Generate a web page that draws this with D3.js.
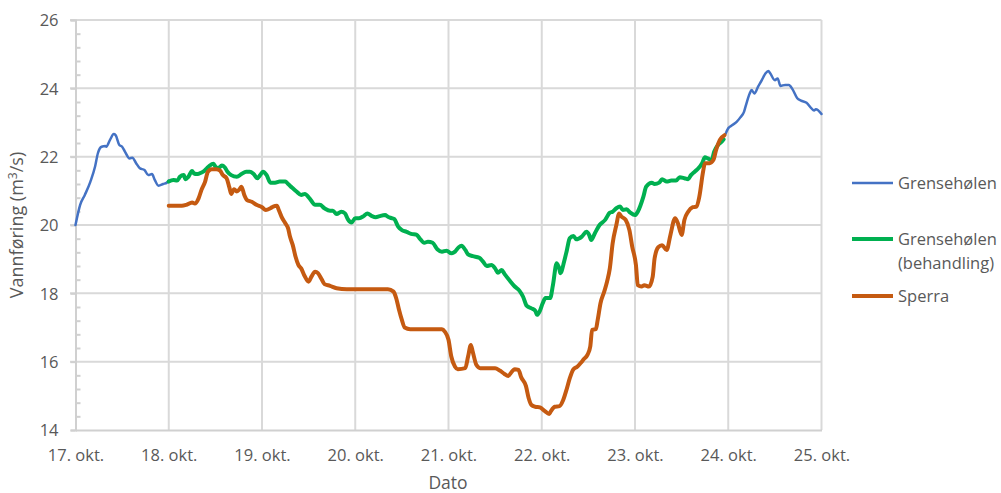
<!DOCTYPE html>
<html>
<head>
<meta charset="utf-8">
<script src="https://cdn.jsdelivr.net/npm/d3@7"></script>
<style>
  body { margin: 0; background: #fff; }
  svg text { font-family: "Open Sans", sans-serif; fill: #595959; }
</style>
</head>
<body>
<svg id="chart" width="1001" height="493"></svg>
<script>
"use strict"
/* Vannføring (m3/s) 17.-25. okt - Grensehølen, Grensehølen (behandling) and Sperra
 * x values are days after 17. okt 00:00 */

var dayLabels = ["17. okt.", "18. okt.", "19. okt.", "20. okt.", "21. okt.",
                 "22. okt.", "23. okt.", "24. okt.", "25. okt."];
var yTicks = [14, 16, 18, 20, 22, 24, 26];

// Grensehølen - before and after the treatment period (null splits the line)
var grenseholen = [
  [0.00,20.00],[0.05,20.59],[0.10,20.88],[0.16,21.27],[0.21,21.71],[0.24,22.10],[0.28,22.29],
  [0.32,22.31],[0.33,22.29],[0.37,22.49],[0.41,22.66],[0.43,22.63],[0.47,22.34],[0.50,22.29],
  [0.53,22.15],[0.58,21.95],[0.61,21.97],[0.65,21.81],[0.69,21.66],[0.74,21.61],[0.78,21.46],
  [0.82,21.49],[0.85,21.32],[0.89,21.15],[0.94,21.20],[0.98,21.24],[1.00,21.30],
  null,
  [6.97,22.66],[7.00,22.83],[7.03,22.90],[7.09,23.02],[7.13,23.15],[7.17,23.32],[7.19,23.51],
  [7.23,23.85],[7.25,23.95],[7.28,23.85],[7.32,24.05],[7.36,24.24],[7.40,24.44],[7.43,24.51],
  [7.45,24.44],[7.50,24.24],[7.53,24.29],[7.56,24.07],[7.61,24.10],[7.65,24.10],[7.69,23.97],
  [7.74,23.71],[7.78,23.64],[7.84,23.58],[7.89,23.42],[7.92,23.35],[7.94,23.39],[8.00,23.25]
];

// Grensehølen (behandling)
var behandling = [
  [1.00,21.27],[1.05,21.32],[1.09,21.30],[1.12,21.41],[1.16,21.46],[1.18,21.34],[1.21,21.41],
  [1.25,21.58],[1.27,21.51],[1.30,21.49],[1.33,21.51],[1.37,21.56],[1.41,21.66],[1.44,21.74],
  [1.48,21.79],[1.50,21.71],[1.53,21.66],[1.57,21.74],[1.60,21.69],[1.63,21.56],[1.67,21.46],
  [1.73,21.41],[1.78,21.49],[1.83,21.56],[1.87,21.56],[1.91,21.49],[1.95,21.37],[1.98,21.46],
  [2.01,21.56],[2.05,21.46],[2.09,21.24],[2.14,21.24],[2.19,21.27],[2.25,21.27],[2.28,21.20],
  [2.32,21.10],[2.37,20.98],[2.42,20.88],[2.46,20.91],[2.51,20.78],[2.57,20.59],[2.62,20.59],
  [2.67,20.49],[2.73,20.42],[2.76,20.42],[2.80,20.32],[2.85,20.39],[2.89,20.34],[2.92,20.17],
  [2.96,20.07],[3.00,20.20],[3.04,20.20],[3.09,20.26],[3.13,20.34],[3.18,20.26],[3.22,20.23],
  [3.26,20.26],[3.32,20.29],[3.35,20.24],[3.39,20.20],[3.42,20.17],[3.46,19.95],[3.50,19.85],
  [3.55,19.80],[3.60,19.74],[3.66,19.71],[3.69,19.61],[3.74,19.48],[3.78,19.51],[3.83,19.48],
  [3.88,19.29],[3.93,19.22],[3.98,19.25],[4.03,19.17],[4.07,19.22],[4.11,19.35],[4.14,19.39],
  [4.18,19.27],[4.21,19.14],[4.26,19.09],[4.33,19.04],[4.37,18.93],[4.41,18.80],[4.46,18.83],
  [4.50,18.73],[4.53,18.60],[4.57,18.68],[4.60,18.57],[4.66,18.36],[4.71,18.20],[4.76,18.08],
  [4.80,17.90],[4.84,17.63],[4.89,17.56],[4.93,17.49],[4.95,17.37],[4.98,17.49],[5.01,17.71],
  [5.04,17.86],[5.09,17.86],[5.12,18.24],[5.16,18.88],[5.19,18.70],[5.20,18.59],[5.24,18.93],
  [5.27,19.27],[5.30,19.61],[5.34,19.68],[5.37,19.58],[5.43,19.66],[5.48,19.80],[5.51,19.70],
  [5.53,19.56],[5.57,19.76],[5.62,20.00],[5.68,20.15],[5.73,20.36],[5.76,20.39],[5.80,20.49],
  [5.84,20.54],[5.87,20.44],[5.91,20.46],[5.95,20.36],[6.00,20.29],[6.03,20.39],[6.09,20.83],
  [6.12,21.12],[6.18,21.24],[6.21,21.20],[6.26,21.24],[6.29,21.34],[6.34,21.27],[6.39,21.30],
  [6.44,21.30],[6.48,21.40],[6.53,21.37],[6.57,21.34],[6.60,21.46],[6.64,21.56],[6.68,21.66],
  [6.72,21.81],[6.75,21.98],[6.78,21.95],[6.82,21.90],[6.85,22.15],[6.89,22.34],[6.93,22.44],
  [6.95,22.51]
];

// Sperra
var sperra = [
  [1.00,20.56],[1.07,20.56],[1.14,20.56],[1.19,20.59],[1.25,20.66],[1.28,20.63],[1.32,20.78],
  [1.35,21.02],[1.39,21.27],[1.42,21.56],[1.46,21.63],[1.51,21.63],[1.55,21.59],[1.58,21.46],
  [1.62,21.37],[1.65,21.10],[1.67,20.91],[1.70,21.05],[1.73,20.98],[1.76,21.05],[1.78,21.12],
  [1.81,20.88],[1.84,20.73],[1.89,20.68],[1.94,20.59],[2.00,20.52],[2.04,20.44],[2.09,20.49],
  [2.12,20.54],[2.16,20.56],[2.18,20.44],[2.21,20.24],[2.25,20.05],[2.28,19.90],[2.30,19.66],
  [2.33,19.41],[2.36,19.07],[2.39,18.83],[2.42,18.73],[2.46,18.49],[2.50,18.34],[2.53,18.49],
  [2.57,18.63],[2.60,18.59],[2.64,18.41],[2.67,18.27],[2.73,18.22],[2.80,18.15],[2.91,18.12],
  [3.05,18.12],[3.23,18.12],[3.35,18.12],[3.41,18.05],[3.44,17.85],[3.47,17.51],[3.50,17.22],
  [3.53,17.00],[3.59,16.95],[3.80,16.95],[3.93,16.95],[3.96,16.88],[4.00,16.64],[4.03,16.15],
  [4.07,15.85],[4.10,15.78],[4.18,15.81],[4.21,16.15],[4.24,16.49],[4.26,16.29],[4.30,15.90],
  [4.34,15.81],[4.41,15.81],[4.50,15.81],[4.55,15.74],[4.60,15.64],[4.64,15.58],[4.68,15.71],
  [4.71,15.78],[4.75,15.76],[4.78,15.54],[4.83,15.29],[4.86,14.93],[4.89,14.73],[4.93,14.68],
  [4.98,14.66],[5.03,14.56],[5.08,14.47],[5.10,14.56],[5.14,14.68],[5.19,14.70],[5.23,14.88],
  [5.27,15.22],[5.30,15.51],[5.34,15.78],[5.38,15.85],[5.42,15.97],[5.45,16.07],[5.49,16.20],
  [5.52,16.44],[5.54,16.93],[5.58,16.95],[5.60,17.22],[5.63,17.71],[5.67,18.05],[5.70,18.34],
  [5.73,18.73],[5.76,19.46],[5.80,20.00],[5.83,20.34],[5.85,20.26],[5.90,20.15],[5.94,19.85],
  [5.97,19.37],[6.01,18.83],[6.03,18.24],[6.07,18.20],[6.10,18.24],[6.15,18.20],[6.19,18.49],
  [6.21,19.02],[6.25,19.35],[6.29,19.41],[6.34,19.27],[6.38,19.71],[6.43,20.20],[6.46,20.05],
  [6.50,19.71],[6.53,20.15],[6.57,20.39],[6.62,20.52],[6.66,20.54],[6.69,20.83],[6.73,21.56],
  [6.75,21.81],[6.80,21.81],[6.84,21.90],[6.87,22.20],[6.91,22.49],[6.96,22.63]
];

var series = [
  { name: ["Grensehølen"], data: grenseholen, color: "#4472C4", width: 2.5, ly: 183 },
  { name: ["Grensehølen", "(behandling)"], data: behandling, color: "#00B050", width: 4, ly: 239 },
  { name: ["Sperra"], data: sperra, color: "#C55A11", width: 4, ly: 296 }
];

var svg = d3.select("svg#chart"),
    x = d3.scaleLinear().domain([0, 8]).range([75.5, 821.5]),
    y = d3.scaleLinear().domain([14, 26]).range([430, 20]);

svg.append("rect").attr("width", 1001).attr("height", 493).attr("fill", "#fff");

// Gridlines
var grid = svg.append("g").attr("stroke", "#d9d9d9").attr("stroke-width", 2);
grid.selectAll("line.h")
    .data(yTicks.slice(1))
  .enter().append("line")
    .attr("x1", 70).attr("x2", x(8))
    .attr("y1", function(d) { return y(d); })
    .attr("y2", function(d) { return y(d); });
grid.selectAll("line.v")
    .data(d3.range(1, 9))
  .enter().append("line")
    .attr("x1", function(d) { return x(d); })
    .attr("x2", function(d) { return x(d); })
    .attr("y1", y(26)).attr("y2", y(14));

// Axes - D3 axes with Excel-like styling
var yAxis = svg.append("g")
    .attr("transform", "translate(" + x(0) + ",0)")
    .call(d3.axisLeft(y).tickValues(yTicks).tickSize(5).tickPadding(12));
var yMinor = svg.append("g")
    .attr("transform", "translate(" + x(0) + ",0)")
    .call(d3.axisRight(y).tickValues(d3.range(14, 26.01, 0.4).filter(function(v) {
        return Math.abs(v / 2 - Math.round(v / 2)) > 0.01; }))
      .tickSize(5).tickFormat(""));
yMinor.select(".domain").remove();

var xAxis = svg.append("g")
    .attr("transform", "translate(0," + y(14) + ")")
    .call(d3.axisBottom(x).tickValues(d3.range(0, 9))
      .tickFormat(function(d) { return dayLabels[d]; })
      .tickSize(0).tickPadding(19));

svg.selectAll(".domain, .tick line").attr("stroke", "#d0d0d0").attr("stroke-width", 2);
svg.selectAll(".tick text").attr("font-size", 16.5).style("font-family", "Open Sans").attr("fill", "#595959");
yAxis.selectAll(".tick text").attr("dy", "0.36em");

// Axis titles
svg.append("text")
    .attr("x", 448).attr("y", 489)
    .attr("text-anchor", "middle")
    .attr("font-size", 17.5)
    .text("Dato");

var yt = svg.append("text")
    .attr("transform", "translate(23,225) rotate(-90)")
    .attr("text-anchor", "middle")
    .attr("font-size", 18);
yt.append("tspan").text("Vannføring (m");
yt.append("tspan").attr("font-size", 12).attr("dy", -6).text("3");
yt.append("tspan").attr("dy", 6).text("/s)");

// Lines
var line = d3.line()
    .defined(function(d) { return d != null; })
    .x(function(d) { return x(d[0]); })
    .y(function(d) { return y(d[1]); })
    .curve(d3.curveMonotoneX);

svg.append("g").selectAll("path")
    .data(series)
  .enter().append("path")
    .attr("fill", "none")
    .attr("stroke", function(d) { return d.color; })
    .attr("stroke-width", function(d) { return d.width; })
    .attr("stroke-linejoin", "round")
    .attr("stroke-linecap", "round")
    .attr("d", function(d) { return line(d.data); });

// Legend
var leg = svg.append("g").selectAll("g")
    .data(series)
  .enter().append("g");
leg.append("line")
    .attr("x1", 852).attr("x2", 893)
    .attr("y1", function(d) { return d.ly; })
    .attr("y2", function(d) { return d.ly; })
    .attr("stroke", function(d) { return d.color; })
    .attr("stroke-width", function(d) { return d.width; });
leg.append("text")
    .attr("x", 898)
    .attr("y", function(d) { return d.ly + 6; })
    .attr("font-size", 16.5)
  .selectAll("tspan")
    .data(function(d) { return d.name; })
  .enter().append("tspan")
    .attr("x", 898)
    .attr("dy", function(d, i) { return i ? 24 : 0; })
    .text(function(d) { return d; });
</script>
</body>
</html>
